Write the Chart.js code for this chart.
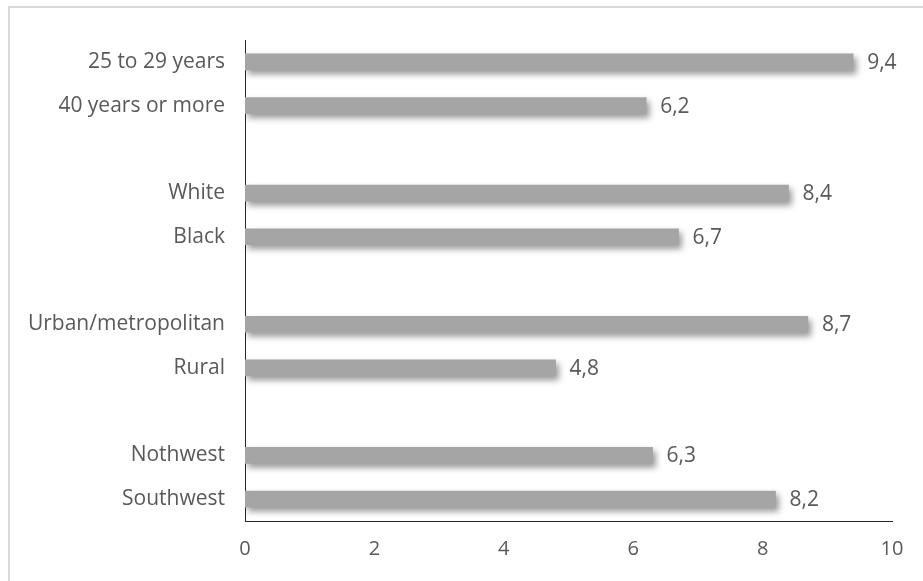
<!DOCTYPE html>
<html>
<head>
<meta charset="utf-8">
<script src="https://cdn.jsdelivr.net/npm/chart.js@4.4.1/dist/chart.umd.min.js"></script>
<style>
  html, body { margin: 0; padding: 0; background: #fff; overflow: hidden; }
  #wrap { position: relative; width: 923px; height: 581px; }
  #frame {
    position: absolute; left: 8px; top: 6px; width: 940px; height: 600px;
    border: 2px solid #d9d9d9; box-sizing: border-box;
  }
  #chart { position: absolute; left: 0; top: 0; }
</style>
</head>
<body>
<div id="wrap">
  <div id="frame"></div>
  <canvas id="chart" width="923" height="581"></canvas>
</div>
<script>
// categories, empty strings are the gaps between groups
const categories = ['25 to 29 years', '40 years or more', '', 'White', 'Black', '',
  'Urban/metropolitan', 'Rural', '', 'Nothwest', 'Southwest'];
const values = [9.4, 6.2, null, 8.4, 6.7, null, 8.7, 4.8, null, 6.3, 8.2];
const xTicks = [0, 2, 4, 6, 8, 10];

const FONT = '"Open Sans", sans-serif';
const TEXT = '#595959';

// soft drop shadow under the bars
const barShadow = {
  id: 'barShadow',
  beforeDatasetsDraw(chart) {
    const ctx = chart.ctx;
    ctx.save();
    ctx.shadowColor = 'rgba(0, 0, 0, 0.4)';
    ctx.shadowOffsetX = 3;
    ctx.shadowOffsetY = 4;
    ctx.shadowBlur = 6;
  },
  afterDatasetsDraw(chart) {
    chart.ctx.restore();
  }
};

// value labels at the end of bars, decimal comma
const valueLabels = {
  id: 'valueLabels',
  afterDraw(chart) {
    const ctx = chart.ctx;
    const meta = chart.getDatasetMeta(0);
    ctx.save();
    ctx.font = '21px ' + FONT;
    ctx.fillStyle = TEXT;
    ctx.textBaseline = 'middle';
    ctx.textAlign = 'left';
    meta.data.forEach((bar, i) => {
      if (values[i] == null) return;
      ctx.fillText(values[i].toFixed(1).replace('.', ','), bar.x + 14, bar.y + 1);
    });
    ctx.restore();
  }
};

new Chart(document.getElementById('chart'), {
  type: 'bar',
  data: {
    labels: categories,
    datasets: [{
      data: values,
      backgroundColor: '#a5a5a5',
      borderWidth: 0,
      barThickness: 16
    }]
  },
  options: {
    indexAxis: 'y',
    responsive: false,
    animation: false,
    layout: { padding: { top: 40, right: 31, bottom: 0, left: 0 } },
    plugins: {
      legend: { display: false },
      tooltip: { enabled: false }
    },
    scales: {
      x: {
        min: 0,
        max: 10,
        afterBuildTicks: (scale) => { scale.ticks = xTicks.map(v => ({ value: v })); },
        grid: { display: false, drawTicks: false },
        border: { display: true, color: '#262626', width: 1 },
        ticks: { color: TEXT, font: { family: FONT, size: 20 }, padding: 16 },
        afterFit: (scale) => { scale.height = 60; }
      },
      y: {
        grid: { display: false, drawTicks: false },
        border: { display: true, color: '#262626', width: 1 },
        ticks: { color: TEXT, font: { family: FONT, size: 21 }, padding: 20, autoSkip: false },
        afterFit: (scale) => { scale.width = 245; }
      }
    }
  },
  plugins: [barShadow, valueLabels]
});
</script>
</body>
</html>
